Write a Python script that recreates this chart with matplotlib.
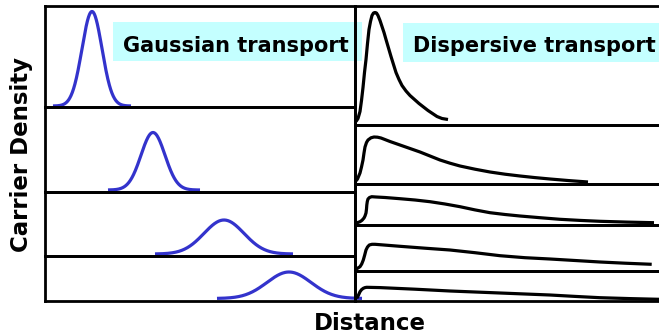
import numpy as np
import matplotlib
matplotlib.use("Agg")
import matplotlib.pyplot as plt
from matplotlib.patches import Rectangle

W, H = 659, 335

# ---- data -------------------------------------------------------------
# Gaussian transport: pulse centre, width, peak density and drawn extent
gauss_center = [47, 108, 179, 244]
gauss_sigma = [10, 12, 20, 22]
gauss_peak = [94.5, 57.5, 34, 26.5]
gauss_start = [8, 63, 110, 172]
gauss_end = [86, 155, 248, 317]

# Dispersive transport: sampled carrier profiles (distance, density)
disp1_x = [1, 3, 5, 6.5, 8, 9.5, 11, 12.5, 14, 15.5, 17, 18.5, 20, 21.5, 23,
           25, 27, 29, 31, 33.5, 36, 38.5, 41, 44, 47, 51, 55, 59.5, 64,
           68.5, 73, 77.5, 82, 87, 93]
disp1_y = [1, 4, 11, 22, 35, 50, 63, 79, 93, 101, 107, 109.5, 110, 109.5, 107,
           102, 96, 90, 83, 74.5, 66, 58, 50, 43, 37, 31.5, 27, 23, 19,
           15.5, 12, 9, 6, 4, 3]

disp2_x = [0, 2.5, 5, 6.5, 8, 9, 10, 11.5, 13, 16, 19, 22.5, 26, 35, 45, 55,
           65, 75, 85, 95, 105, 120, 135, 150, 165, 180, 195, 214, 233]
disp2_y = [1, 4, 10, 16, 23, 30, 36, 40.5, 43, 45.2, 46, 45.8, 45, 41.5, 38,
           34.5, 31, 27, 23, 19.8, 17, 13.8, 11, 8.8, 7, 5.4, 4, 2.4, 1]

disp3_x = [0, 2.5, 5, 7, 9, 10, 11, 11.5, 11.8, 12.3, 13, 14.5, 16.7, 21, 30,
           45, 60, 75, 90, 105, 120, 135, 150, 165, 185, 205, 225, 245, 272,
           299]
disp3_y = [0.3, 0.9, 1.8, 3.2, 5.5, 7.5, 10.5, 14.5, 18.5, 22, 24.5, 26, 26.8,
           26.5, 26, 24.8, 23.5, 21.8, 19.5, 16.8, 13.6, 10.8, 9, 7.5, 5.8,
           4.2, 3.1, 2.2, 1.4, 0.8]

disp4_x = [0, 2.5, 5, 6.7, 8.3, 9.7, 11, 12.5, 14.3, 17, 20, 45, 70, 95, 120,
           145, 170, 195, 220, 245, 270, 296.7]
disp4_y = [0.2, 1.2, 2.8, 5.5, 9.5, 14.5, 19.5, 22.5, 24.5, 25.2, 25.2, 23.2,
           21.3, 19.5, 16.8, 13.8, 11.8, 10.5, 9, 7.5, 6.3, 5.2]

disp5_x = [1.7, 2.5, 3.3, 4.2, 5, 6.5, 8.3, 10, 11.7, 25, 60, 95, 145, 195,
           220, 245, 275, 304]
disp5_y = [1.2, 2.4, 4.0, 6.0, 7.8, 9.8, 11.2, 11.9, 12.2, 11.9, 10.3, 8.5,
           6.5, 4.5, 3.1, 1.8, 0.9, 0.2]

disp_x = [disp1_x, disp2_x, disp3_x, disp4_x, disp5_x]
disp_y = [disp1_y, disp2_y, disp3_y, disp4_y, disp5_y]

# ---- layout (pixel rows: top, bottom, curve baseline) -----------------
left_rows = [(6, 107.3, 106), (107.3, 192.3, 190), (192.3, 255.7, 254),
             (255.7, 301, 298.5)]
right_rows = [(6, 125, 122.5), (125, 184, 183), (184, 225.3, 223.5),
              (225.3, 271, 269.5), (271, 301, 299.5)]
LEFT_X = (45, 355)
RIGHT_X = (355, 665)

BLUE = "#3333cc"
CYAN = "#c4ffff"
FONT = "DejaVu Sans"

fig = plt.figure(figsize=(W / 100, H / 100), dpi=100)
fig.patch.set_facecolor("white")


def panel(x0, x1, top, bottom, base):
    ax = fig.add_axes([x0 / W, 1 - bottom / H, (x1 - x0) / W, (bottom - top) / H])
    ax.set_facecolor("none")
    ax.set_xlim(0, x1 - x0)
    ax.set_ylim(-(bottom - base), base - top)
    ax.set_xticks([])
    ax.set_yticks([])
    for s in ax.spines.values():
        s.set_linewidth(2.0)
        s.set_color("black")
    return ax


for i, (top, bottom, base) in enumerate(left_rows):
    ax = panel(*LEFT_X, top, bottom, base)
    xs = np.linspace(gauss_start[i], gauss_end[i], 300)
    ys = gauss_peak[i] * np.exp(-0.5 * ((xs - gauss_center[i]) / gauss_sigma[i]) ** 2)
    ax.plot(xs, ys, color=BLUE, lw=2.3, solid_capstyle="butt", clip_on=False)

for i, (top, bottom, base) in enumerate(right_rows):
    ax = panel(*RIGHT_X, top, bottom, base)
    ax.plot(disp_x[i], disp_y[i], color="black", lw=2.3,
            solid_capstyle="butt", solid_joinstyle="round")

# labelled highlight boxes
fig.patches.append(Rectangle((113 / W, 1 - 61 / H), (362 - 113) / W, 39 / H,
                             transform=fig.transFigure, facecolor=CYAN,
                             edgecolor="none", zorder=-1))
fig.patches.append(Rectangle((403 / W, 1 - 62 / H), (665 - 403) / W, 39 / H,
                             transform=fig.transFigure, facecolor=CYAN,
                             edgecolor="none", zorder=-1))

fig.text(123 / W, 1 - 52 / H, "Gaussian transport", ha="left", va="baseline",
         fontsize=15, fontweight="bold", family=FONT)
fig.text(413 / W, 1 - 52 / H, "Dispersive transport", ha="left", va="baseline",
         fontsize=15, fontweight="bold", family=FONT)

fig.text(22 / W, 1 - 154 / H, "Carrier Density", rotation=90, ha="center",
         va="center", fontsize=16.5, fontweight="bold", family=FONT)
fig.text(370 / W, 1 - 330 / H, "Distance", ha="center", va="baseline",
         fontsize=16.5, fontweight="bold", family=FONT)

fig.savefig("out.png", dpi=100, facecolor="white")
